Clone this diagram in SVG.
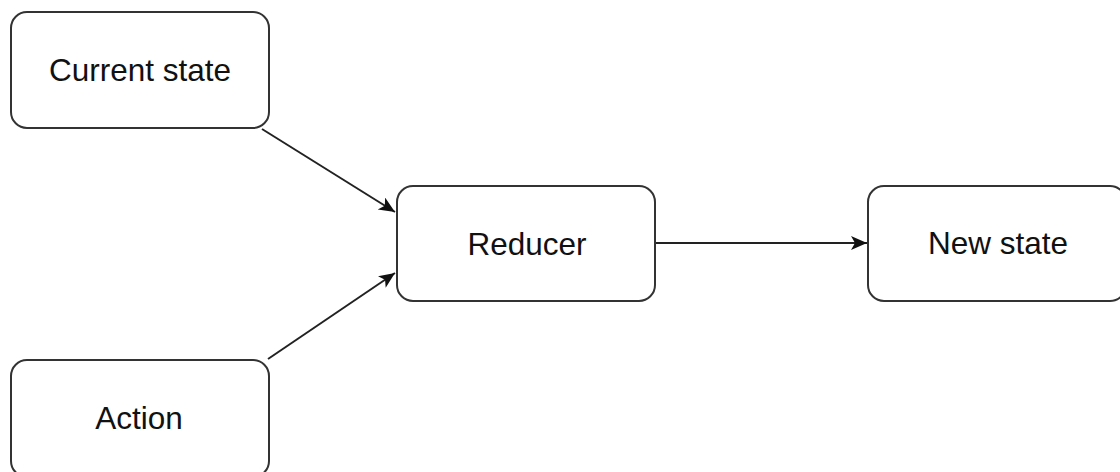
<svg xmlns="http://www.w3.org/2000/svg" width="1120" height="472" viewBox="0 0 1120 472">
<style>
.box{fill:#fff;stroke:#333;stroke-width:2}
.lbl{font-family:"Liberation Sans",Arial,sans-serif;font-size:31.5px;fill:#111;text-anchor:middle}
.edge{fill:none;stroke:#222;stroke-width:2}
</style>
<defs>
<marker id="arr" markerUnits="userSpaceOnUse" markerWidth="18" markerHeight="16" refX="16" refY="7" orient="auto">
<path d="M0,0 L16,7 L0,14 L4,7 Z" fill="#111"/>
</marker>
</defs>
<rect width="1120" height="472" fill="#fff"/>
<g id="connectors">
<line class="edge" x1="262" y1="129" x2="395" y2="212" marker-end="url(#arr)"/>
<line class="edge" x1="268" y1="359" x2="395" y2="273" marker-end="url(#arr)"/>
<line class="edge" x1="655" y1="243" x2="867" y2="243" marker-end="url(#arr)"/>
</g>
<g id="current-state">
<rect class="box" x="11" y="12" width="258" height="116" rx="16"/>
<text class="lbl" x="140" y="81">Current state</text>
</g>
<g id="action">
<rect class="box" x="11" y="360" width="258" height="117" rx="16"/>
<text class="lbl" x="139" y="429">Action</text>
</g>
<g id="reducer">
<rect class="box" x="397" y="186" width="258" height="115" rx="16"/>
<text class="lbl" x="527" y="255">Reducer</text>
</g>
<g id="new-state">
<rect class="box" x="868" y="186" width="258" height="115" rx="16"/>
<text class="lbl" x="998" y="254">New state</text>
</g>
</svg>
